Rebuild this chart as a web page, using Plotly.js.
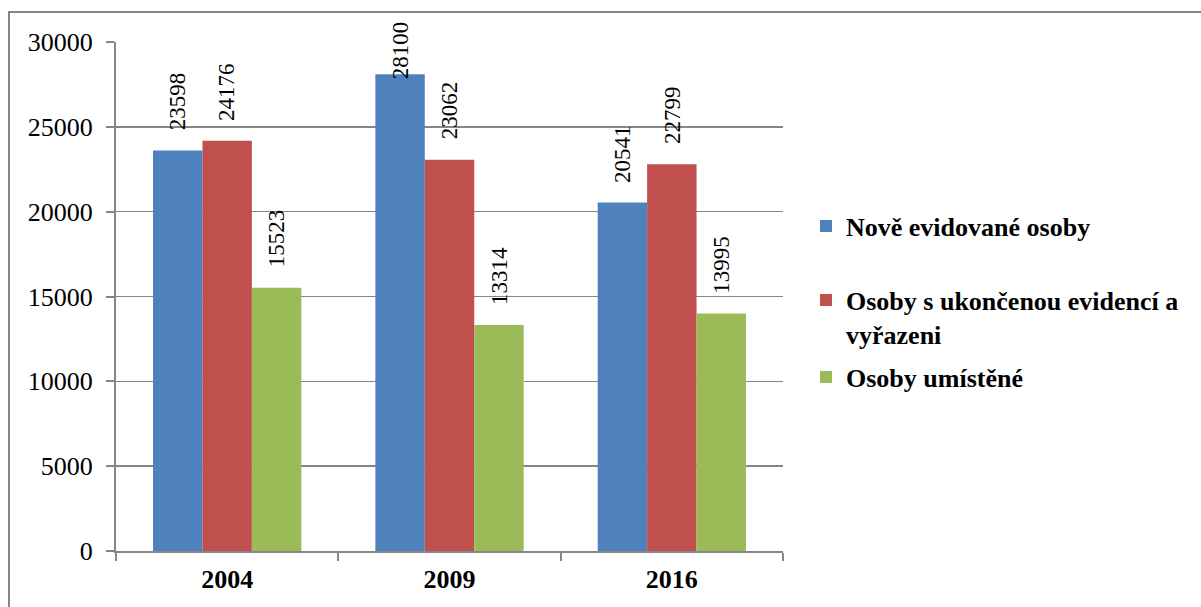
<!DOCTYPE html>
<html>
<head>
<meta charset="utf-8">
<script src="https://cdn.plot.ly/plotly-3.0.1.min.js"></script>
<style>
  html, body { margin: 0; padding: 0; background: #ffffff; }
  #chart { width: 1201px; height: 607px; }
</style>
</head>
<body>
<div id="chart"></div>
<script>
const years = ["2004", "2009", "2016"];
const seriesNames = ["Nově evidované osoby", "Osoby s ukončenou evidencí a<br>vyřazeni", "Osoby umístěné"];
const noveEvidovane = [23598, 28100, 20541];
const ukoncenaEvidence = [24176, 23062, 22799];
const umistene = [15523, 13314, 13995];
const seriesColors = ["#4F81BD", "#C0504D", "#9BBB59"];

const allSeries = [noveEvidovane, ukoncenaEvidence, umistene];
const FONT = "Liberation Serif, Times New Roman, serif";
const GRID = "#868686";
const bargap = 0.333;
const barW = (1 - bargap) / allSeries.length;

const legendIds = ["legend", "legend2", "legend3"];
const traces = allSeries.map((vals, s) => ({
  type: "bar",
  name: seriesNames[s],
  x: years,
  y: vals,
  marker: { color: seriesColors[s], line: { width: 0 } },
  legend: legendIds[s],
  hoverinfo: "skip"
}));

// data labels (rotated, placed above bars, kept inside plot top like the original)
const padUnits = 1120;
const capUnits = 27750;
const annotations = [];
allSeries.forEach((vals, s) => {
  vals.forEach((v, i) => {
    annotations.push({
      xref: "x", yref: "y",
      x: i + (s - 1) * barW,
      y: Math.min(v + padUnits, capUnits),
      text: String(v),
      textangle: -90,
      showarrow: false,
      xanchor: "center",
      yanchor: "bottom",
      borderpad: 0,
      font: { family: FONT, size: 23, color: "#000000" }
    });
  });
});

const legendFont = { family: FONT, size: 26, color: "#000000", weight: "bold" };
function legendAt(yc) {
  return {
    x: 1.0345, xanchor: "left",
    y: yc, yanchor: "middle",
    font: legendFont,
    bgcolor: "rgba(0,0,0,0)",
    borderwidth: 0,
    valign: "top",
    itemclick: false, itemdoubleclick: false
  };
}

const layout = {
  width: 1201, height: 607,
  font: { family: FONT, color: "#000000" },
  margin: { l: 116, r: 418, t: 42, b: 56, pad: 0 },
  paper_bgcolor: "#ffffff",
  plot_bgcolor: "#ffffff",
  barmode: "group",
  bargap: bargap,
  bargroupgap: 0,
  showlegend: true,
  legend: legendAt((551 - 226) / 509),
  legend2: legendAt((551 - 317) / 509),
  legend3: legendAt((551 - 377) / 509),
  xaxis: {
    type: "category",
    showgrid: false,
    zeroline: false,
    showline: true,
    linecolor: GRID,
    linewidth: 2,
    ticks: "outside",
    tickson: "boundaries",
    ticklen: 8,
    tickwidth: 2,
    tickcolor: GRID,
    ticklabelstandoff: 4,
    tickfont: { family: FONT, size: 26, color: "#000000", weight: "bold" },
    fixedrange: true
  },
  yaxis: {
    range: [0, 30000],
    dtick: 5000,
    tick0: 0,
    tickformat: "d",
    showgrid: true,
    gridcolor: GRID,
    gridwidth: 1.5,
    zeroline: false,
    showline: true,
    linecolor: GRID,
    linewidth: 2,
    ticks: "outside",
    ticklen: 8,
    tickwidth: 2,
    tickcolor: GRID,
    ticklabelstandoff: 8,
    tickfont: { family: FONT, size: 26, color: "#000000" },
    fixedrange: true
  },
  annotations: annotations,
  shapes: [{
    type: "rect",
    xref: "paper", yref: "paper",
    x0: (9 - 116) / 667, x1: (1215 - 116) / 667,
    y0: (551 - 620) / 509, y1: (551 - 12) / 509,
    line: { color: GRID, width: 2 },
    fillcolor: "rgba(0,0,0,0)",
    layer: "below"
  }]
};

Plotly.newPlot("chart", traces, layout, { displayModeBar: false, staticPlot: true });
</script>
</body>
</html>
